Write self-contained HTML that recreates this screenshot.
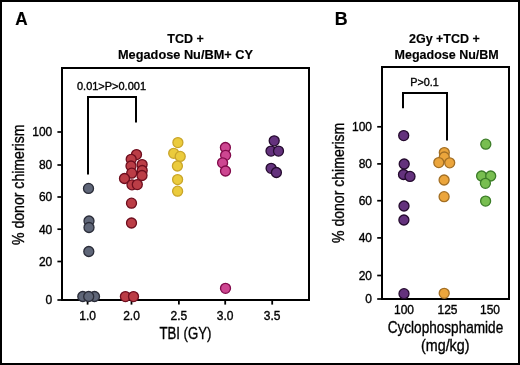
<!DOCTYPE html>
<html><head><meta charset="utf-8"><style>
html,body{margin:0;padding:0;background:#fff;}
svg{display:block;will-change:transform;}
text{font-family:"Liberation Sans", sans-serif;fill:#000;stroke:#000;stroke-width:0.35px;}
text[font-weight=bold]{stroke-width:0.15px;}
</style></head><body>
<svg width="520" height="365" viewBox="0 0 520 365">
<rect x="0" y="0" width="520" height="365" fill="#fff"/>
<rect x="1" y="1" width="518" height="363" fill="none" stroke="#000" stroke-width="2"/>
<text x="15.2" y="25.2" font-size="18.5" font-weight="bold" textLength="12.4" lengthAdjust="spacingAndGlyphs">A</text>
<text x="334.8" y="25.2" font-size="18.5" font-weight="bold" textLength="12.9" lengthAdjust="spacingAndGlyphs">B</text>
<text x="185.5" y="42.7" font-size="12.5" font-weight="bold" text-anchor="middle">TCD +</text>
<text x="185.5" y="59" font-size="12.5" font-weight="bold" text-anchor="middle" textLength="135" lengthAdjust="spacingAndGlyphs">Megadose Nu/BM+ CY</text>
<text x="444.4" y="42.7" font-size="12.5" font-weight="bold" text-anchor="middle">2Gy +TCD +</text>
<text x="446.7" y="58.8" font-size="12.5" font-weight="bold" text-anchor="middle">Megadose Nu/BM</text>
<rect x="62" y="68" width="247" height="232" fill="none" stroke="#000" stroke-width="2"/>
<line x1="57.4" y1="132" x2="62" y2="132" stroke="#000" stroke-width="1.7"/>
<text x="52.3" y="136.3" font-size="12" text-anchor="end">100</text>
<line x1="57.4" y1="165" x2="62" y2="165" stroke="#000" stroke-width="1.7"/>
<text x="52.3" y="169.3" font-size="12" text-anchor="end">80</text>
<line x1="57.4" y1="197" x2="62" y2="197" stroke="#000" stroke-width="1.7"/>
<text x="52.3" y="201.3" font-size="12" text-anchor="end">60</text>
<line x1="57.4" y1="229.2" x2="62" y2="229.2" stroke="#000" stroke-width="1.7"/>
<text x="52.3" y="233.5" font-size="12" text-anchor="end">40</text>
<line x1="57.4" y1="261.5" x2="62" y2="261.5" stroke="#000" stroke-width="1.7"/>
<text x="52.3" y="265.8" font-size="12" text-anchor="end">20</text>
<line x1="57.4" y1="300" x2="62" y2="300" stroke="#000" stroke-width="1.7"/>
<text x="52.3" y="304.3" font-size="12" text-anchor="end">0</text>
<line x1="87.6" y1="300" x2="87.6" y2="304.6" stroke="#000" stroke-width="1.8"/>
<text x="87.6" y="319.8" font-size="12" text-anchor="middle">1.0</text>
<line x1="131.5" y1="300" x2="131.5" y2="304.6" stroke="#000" stroke-width="1.8"/>
<text x="131.5" y="319.8" font-size="12" text-anchor="middle">2.0</text>
<line x1="178.9" y1="300" x2="178.9" y2="304.6" stroke="#000" stroke-width="1.8"/>
<text x="178.9" y="319.8" font-size="12" text-anchor="middle">2.5</text>
<line x1="225.2" y1="300" x2="225.2" y2="304.6" stroke="#000" stroke-width="1.8"/>
<text x="225.2" y="319.8" font-size="12" text-anchor="middle">3.0</text>
<line x1="272.2" y1="300" x2="272.2" y2="304.6" stroke="#000" stroke-width="1.8"/>
<text x="272.2" y="319.8" font-size="12" text-anchor="middle">3.5</text>
<text x="159.4" y="338.9" font-size="16" textLength="52" lengthAdjust="spacingAndGlyphs">TBI (GY)</text>
<text transform="translate(23.7,245) rotate(-90)" x="0" y="0" font-size="16.5" textLength="120.5" lengthAdjust="spacingAndGlyphs">% donor chimerism</text>
<path d="M88,174.5 V97 H136 V122.5" fill="none" stroke="#000" stroke-width="2"/>
<text x="77" y="89.7" font-size="10.5" textLength="69" lengthAdjust="spacingAndGlyphs">0.01&gt;P&gt;0.001</text>
<rect x="382" y="67" width="127" height="232" fill="none" stroke="#000" stroke-width="2"/>
<line x1="377.2" y1="126.8" x2="382" y2="126.8" stroke="#000" stroke-width="1.7"/>
<text x="372" y="131.1" font-size="12" text-anchor="end">100</text>
<line x1="377.2" y1="163.9" x2="382" y2="163.9" stroke="#000" stroke-width="1.7"/>
<text x="372" y="168.20000000000002" font-size="12" text-anchor="end">80</text>
<line x1="377.2" y1="200.7" x2="382" y2="200.7" stroke="#000" stroke-width="1.7"/>
<text x="372" y="205.0" font-size="12" text-anchor="end">60</text>
<line x1="377.2" y1="237.9" x2="382" y2="237.9" stroke="#000" stroke-width="1.7"/>
<text x="372" y="242.20000000000002" font-size="12" text-anchor="end">40</text>
<line x1="377.2" y1="275.5" x2="382" y2="275.5" stroke="#000" stroke-width="1.7"/>
<text x="372" y="279.8" font-size="12" text-anchor="end">20</text>
<line x1="377.2" y1="299" x2="382" y2="299" stroke="#000" stroke-width="1.7"/>
<text x="372" y="303.3" font-size="12" text-anchor="end">0</text>
<text x="404" y="313.5" font-size="12" text-anchor="middle">100</text>
<text x="447.5" y="313.5" font-size="12" text-anchor="middle">125</text>
<text x="490" y="313.5" font-size="12" text-anchor="middle">150</text>
<text x="387.7" y="332.6" font-size="16.5" textLength="115.5" lengthAdjust="spacingAndGlyphs">Cyclophosphamide</text>
<text x="421" y="350.5" font-size="16.5" textLength="48.5" lengthAdjust="spacingAndGlyphs">(mg/kg)</text>
<text transform="translate(343.6,243) rotate(-90)" x="0" y="0" font-size="16.5" textLength="120.3" lengthAdjust="spacingAndGlyphs">% donor chimerism</text>
<path d="M403,108.2 V93 H447 V140.5" fill="none" stroke="#000" stroke-width="2"/>
<text x="410.2" y="85.8" font-size="10.8" textLength="28.6" lengthAdjust="spacingAndGlyphs">P&gt;0.1</text>
<circle cx="88.5" cy="188.4" r="5.0" fill="#5f6678" stroke="#2a2c38" stroke-width="1.3"/>
<circle cx="89" cy="221" r="5.0" fill="#5f6678" stroke="#2a2c38" stroke-width="1.3"/>
<circle cx="89" cy="227.5" r="5.0" fill="#5f6678" stroke="#2a2c38" stroke-width="1.3"/>
<circle cx="88.8" cy="251.5" r="5.0" fill="#5f6678" stroke="#2a2c38" stroke-width="1.3"/>
<circle cx="82.8" cy="296.5" r="5.0" fill="#5f6678" stroke="#2a2c38" stroke-width="1.3"/>
<circle cx="94.5" cy="296.5" r="5.0" fill="#5f6678" stroke="#2a2c38" stroke-width="1.3"/>
<circle cx="88.7" cy="296.5" r="5.0" fill="#5f6678" stroke="#2a2c38" stroke-width="1.3"/>
<circle cx="136.5" cy="154.6" r="5.0" fill="#bb3d46" stroke="#6e0e1e" stroke-width="1.3"/>
<circle cx="131.2" cy="159.3" r="5.0" fill="#bb3d46" stroke="#6e0e1e" stroke-width="1.3"/>
<circle cx="142.1" cy="164.6" r="5.0" fill="#bb3d46" stroke="#6e0e1e" stroke-width="1.3"/>
<circle cx="131" cy="166" r="5.0" fill="#bb3d46" stroke="#6e0e1e" stroke-width="1.3"/>
<circle cx="142.2" cy="170.5" r="5.0" fill="#bb3d46" stroke="#6e0e1e" stroke-width="1.3"/>
<circle cx="131.7" cy="173.2" r="5.0" fill="#bb3d46" stroke="#6e0e1e" stroke-width="1.3"/>
<circle cx="142" cy="175.5" r="5.0" fill="#bb3d46" stroke="#6e0e1e" stroke-width="1.3"/>
<circle cx="124.5" cy="178.5" r="5.0" fill="#bb3d46" stroke="#6e0e1e" stroke-width="1.3"/>
<circle cx="132" cy="184.8" r="5.0" fill="#bb3d46" stroke="#6e0e1e" stroke-width="1.3"/>
<circle cx="137.3" cy="184.6" r="5.0" fill="#bb3d46" stroke="#6e0e1e" stroke-width="1.3"/>
<circle cx="131.5" cy="203.2" r="5.0" fill="#bb3d46" stroke="#6e0e1e" stroke-width="1.3"/>
<circle cx="131.5" cy="223" r="5.0" fill="#bb3d46" stroke="#6e0e1e" stroke-width="1.3"/>
<circle cx="125.4" cy="296.6" r="5.0" fill="#bb3d46" stroke="#6e0e1e" stroke-width="1.3"/>
<circle cx="133.5" cy="296.6" r="5.0" fill="#bb3d46" stroke="#6e0e1e" stroke-width="1.3"/>
<circle cx="177.9" cy="142.6" r="5.0" fill="#ebcb3c" stroke="#c9a52a" stroke-width="1.3"/>
<circle cx="173.7" cy="153.3" r="5.0" fill="#ebcb3c" stroke="#c9a52a" stroke-width="1.3"/>
<circle cx="180.2" cy="156.4" r="5.0" fill="#ebcb3c" stroke="#c9a52a" stroke-width="1.3"/>
<circle cx="177.4" cy="166" r="5.0" fill="#ebcb3c" stroke="#c9a52a" stroke-width="1.3"/>
<circle cx="177.6" cy="179.6" r="5.0" fill="#ebcb3c" stroke="#c9a52a" stroke-width="1.3"/>
<circle cx="177.6" cy="191.2" r="5.0" fill="#ebcb3c" stroke="#c9a52a" stroke-width="1.3"/>
<circle cx="225.4" cy="147.5" r="5.0" fill="#cd4691" stroke="#820a4b" stroke-width="1.3"/>
<circle cx="225.6" cy="155.3" r="5.0" fill="#cd4691" stroke="#820a4b" stroke-width="1.3"/>
<circle cx="222.6" cy="162.8" r="5.0" fill="#cd4691" stroke="#820a4b" stroke-width="1.3"/>
<circle cx="225.5" cy="171" r="5.0" fill="#cd4691" stroke="#820a4b" stroke-width="1.3"/>
<circle cx="225.5" cy="288.3" r="5.0" fill="#cd4691" stroke="#820a4b" stroke-width="1.3"/>
<circle cx="274.2" cy="140.8" r="5.0" fill="#64327d" stroke="#250b2f" stroke-width="1.3"/>
<circle cx="271" cy="151.1" r="5.0" fill="#64327d" stroke="#250b2f" stroke-width="1.3"/>
<circle cx="278.5" cy="151.1" r="5.0" fill="#64327d" stroke="#250b2f" stroke-width="1.3"/>
<circle cx="271.1" cy="168.3" r="5.0" fill="#64327d" stroke="#250b2f" stroke-width="1.3"/>
<circle cx="276.4" cy="172.5" r="5.0" fill="#64327d" stroke="#250b2f" stroke-width="1.3"/>
<circle cx="403.7" cy="135.6" r="5.0" fill="#64327d" stroke="#250b2f" stroke-width="1.3"/>
<circle cx="404.2" cy="164" r="5.0" fill="#64327d" stroke="#250b2f" stroke-width="1.3"/>
<circle cx="403.5" cy="174.5" r="5.0" fill="#64327d" stroke="#250b2f" stroke-width="1.3"/>
<circle cx="410" cy="176.4" r="5.0" fill="#64327d" stroke="#250b2f" stroke-width="1.3"/>
<circle cx="404" cy="206" r="5.0" fill="#64327d" stroke="#250b2f" stroke-width="1.3"/>
<circle cx="403.9" cy="220" r="5.0" fill="#64327d" stroke="#250b2f" stroke-width="1.3"/>
<circle cx="404" cy="293.7" r="5.0" fill="#64327d" stroke="#250b2f" stroke-width="1.3"/>
<circle cx="444.3" cy="152.6" r="5.0" fill="#eba53c" stroke="#a36f24" stroke-width="1.3"/>
<circle cx="444.3" cy="157" r="5.0" fill="#eba53c" stroke="#a36f24" stroke-width="1.3"/>
<circle cx="438.8" cy="162.6" r="5.0" fill="#eba53c" stroke="#a36f24" stroke-width="1.3"/>
<circle cx="449.7" cy="162.8" r="5.0" fill="#eba53c" stroke="#a36f24" stroke-width="1.3"/>
<circle cx="444.1" cy="180" r="5.0" fill="#eba53c" stroke="#a36f24" stroke-width="1.3"/>
<circle cx="444.1" cy="196.7" r="5.0" fill="#eba53c" stroke="#a36f24" stroke-width="1.3"/>
<circle cx="444.2" cy="293.3" r="5.0" fill="#eba53c" stroke="#a36f24" stroke-width="1.3"/>
<circle cx="485.8" cy="144.2" r="5.0" fill="#78be50" stroke="#3c7d28" stroke-width="1.3"/>
<circle cx="481.6" cy="176" r="5.0" fill="#78be50" stroke="#3c7d28" stroke-width="1.3"/>
<circle cx="490.7" cy="176" r="5.0" fill="#78be50" stroke="#3c7d28" stroke-width="1.3"/>
<circle cx="485.4" cy="183.3" r="5.0" fill="#78be50" stroke="#3c7d28" stroke-width="1.3"/>
<circle cx="485.6" cy="201.1" r="5.0" fill="#78be50" stroke="#3c7d28" stroke-width="1.3"/>
</svg>
</body></html>
